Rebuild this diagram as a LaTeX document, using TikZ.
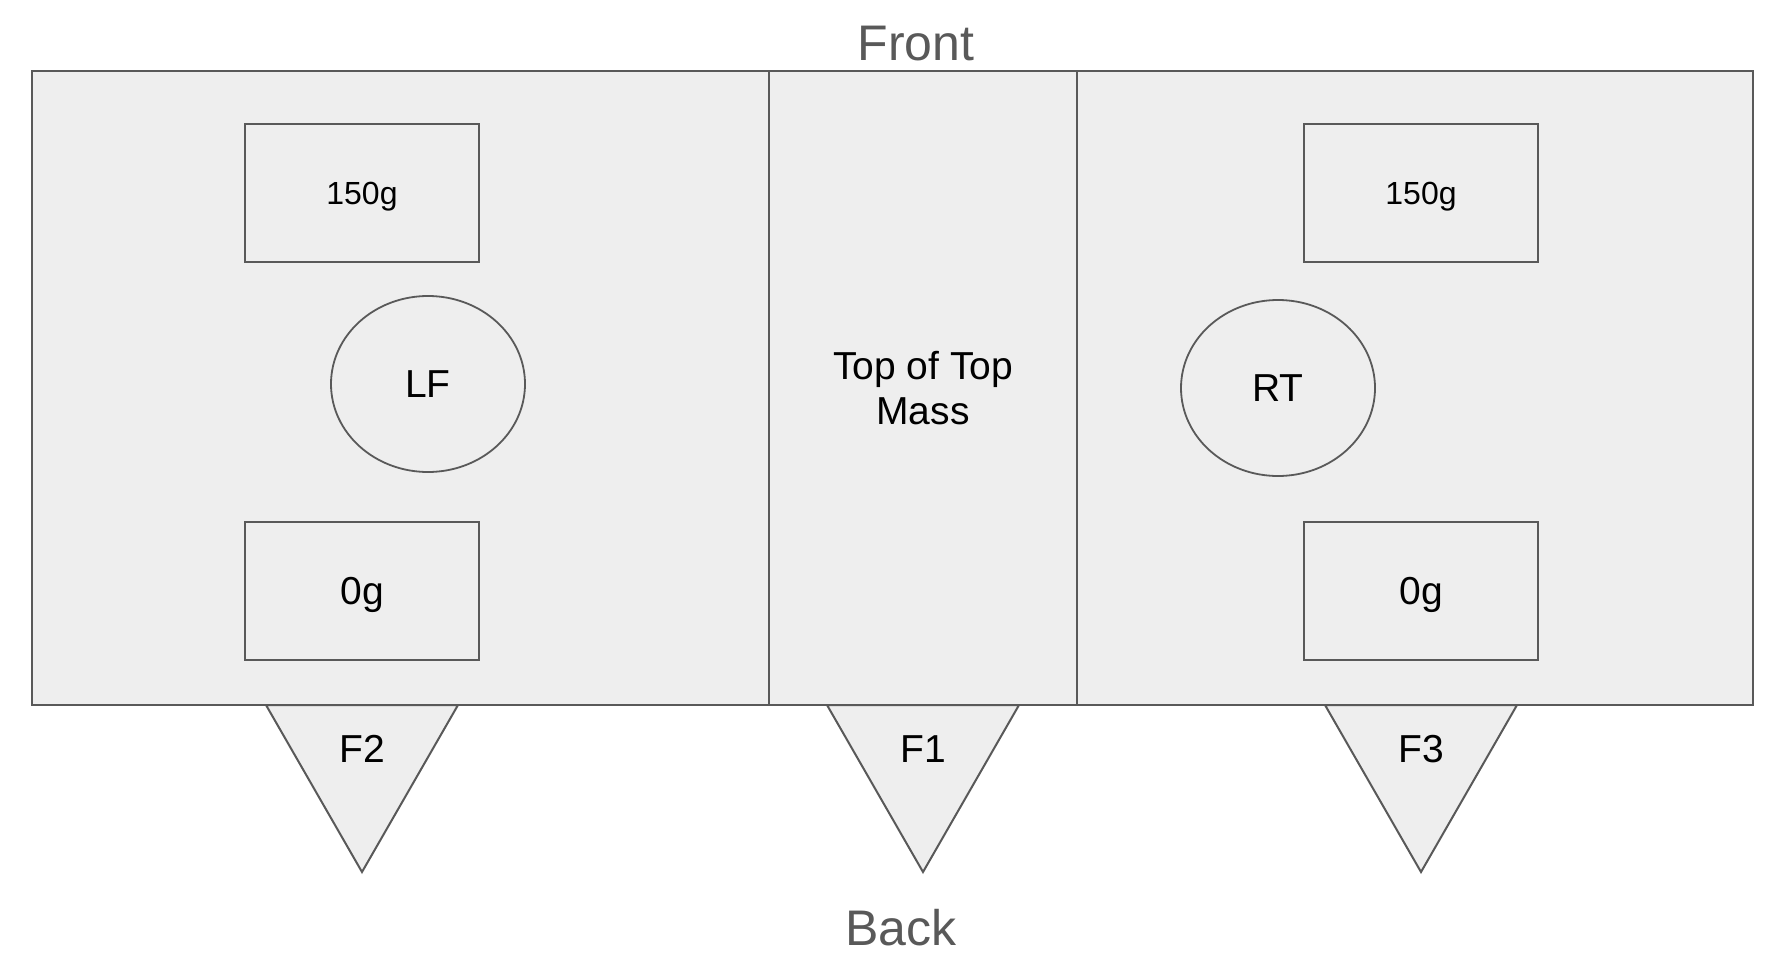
\documentclass[tikz,border=0pt]{standalone}
\usepackage{fontspec}
\setmainfont{Liberation Sans}
\usetikzlibrary{shapes}
\definecolor{plategray}{HTML}{EEEEEE}
\definecolor{linegray}{HTML}{595959}
\tikzstyle{plate}=[draw=linegray,fill=plategray,line width=1pt]
\tikzstyle{massbox}=[rectangle,draw=linegray,fill=plategray,line width=1pt,minimum width=117pt,minimum height=69pt,inner sep=0pt]
\tikzstyle{sensor}=[ellipse,draw=linegray,fill=plategray,line width=0.9pt,minimum width=97pt,minimum height=88pt,inner sep=0pt]
\tikzstyle{foot} = [draw=linegray,fill=plategray,line width=1pt]
\tikzstyle{bigtext} = [font=\fontsize{19.5}{22.5}\selectfont]
\tikzstyle{smalltext} = [font=\fontsize{16}{19}\selectfont]
\tikzstyle{side} = [text=linegray,font=\fontsize{25}{30}\selectfont]

\begin{document}
\begin{tikzpicture}[x=0.5pt,y=-0.5pt]
    \useasboundingbox (0,0) rectangle (1786,968);

    % base plate and middle mass
    \draw[plate] (32,71) rectangle (1753,705);
    \node[massbox,bigtext,minimum width=154pt,minimum height=317pt,align=center] (mass) at (923,388) {Top of Top\\Mass};

    % masses on each side
    \foreach \pos/ \name/ \weight in {{(362,193)/topL/150g}, {(1421,193)/topR/150g}}
        \node[massbox,smalltext,text depth=0pt] (\name) at \pos {\weight};
    \foreach \pos/ \name/ \weight in {{(362,591)/botL/0g}, {(1421,591)/botR/0g}}
        \node[massbox,bigtext,text depth=0pt] (\name) at \pos {\weight};

    \node[sensor,bigtext] (LF) at (428,384) {LF};
    \node[sensor,bigtext] (RT) at (1278,388) {RT};

%feet
    \foreach \x/ \name in {362/F2, 923/F1, 1421/F3}
    {
        \draw[foot] (\x-96,705) -- (\x+96,705) -- (\x,872) -- cycle;
        \node[bigtext] (\name) at (\x,749) {\name};
    }

    \node[side] (front) at (916,44) {Front};
    \node[side] (back) at (901,928) {Back};

\end{tikzpicture}
\end{document}
